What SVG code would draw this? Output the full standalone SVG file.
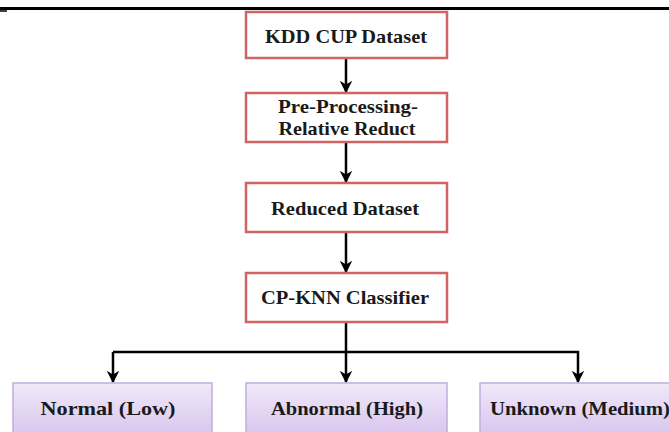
<svg xmlns="http://www.w3.org/2000/svg" width="669" height="432" viewBox="0 0 669 432">
<defs>
<linearGradient id="purple" x1="0" y1="0" x2="0" y2="1">
<stop offset="0" stop-color="#f1e9fa"/>
<stop offset="1" stop-color="#d8c5ee"/>
</linearGradient>
<marker id="arr" viewBox="0 0 10 10" refX="9" refY="5" markerWidth="5" markerHeight="5" orient="auto" markerUnits="strokeWidth">
<path d="M0,0 L10,5 L0,10 L3,5 Z" fill="#000"/>
</marker>
<style>
.red{fill:#fff;stroke:#d06464;stroke-width:2.5}
.pur{fill:url(#purple);stroke:#bfaedb;stroke-width:1.5}
.t{font-family:"Liberation Serif","Times New Roman",serif;font-weight:bold;font-size:19.5px;fill:#1a1a1a;text-anchor:middle}
.c{fill:none;stroke:#000;stroke-width:2.5}
</style>
</defs>
<rect width="669" height="432" fill="#fff"/>
<line x1="0" y1="8.5" x2="669" y2="8.5" stroke="#000" stroke-width="3"/>
<line x1="0" y1="11" x2="7" y2="11" stroke="#000" stroke-width="1.5"/>
<g id="connectors">
<line class="c" x1="346" y1="59" x2="346" y2="92" marker-end="url(#arr)"/>
<line class="c" x1="346" y1="143" x2="346" y2="182" marker-end="url(#arr)"/>
<line class="c" x1="346" y1="233" x2="346" y2="272" marker-end="url(#arr)"/>
<line class="c" x1="346" y1="323" x2="346" y2="382" marker-end="url(#arr)"/>
<path class="c" d="M113,352 H578 V382" marker-end="url(#arr)"/>
<line class="c" x1="113" y1="352" x2="113" y2="382" marker-end="url(#arr)"/>
</g>
<g id="kdd">
<rect class="red" x="246" y="12" width="201" height="46"/>
<text class="t" x="346" y="43" textLength="162" lengthAdjust="spacingAndGlyphs">KDD CUP Dataset</text>
</g>
<g id="preprocessing">
<rect class="red" x="246" y="93" width="201" height="49"/>
<text class="t" x="348" y="113" textLength="140" lengthAdjust="spacingAndGlyphs">Pre-Processing-</text>
<text class="t" x="347" y="135" textLength="137" lengthAdjust="spacingAndGlyphs">Relative Reduct</text>
</g>
<g id="reduced">
<rect class="red" x="246" y="183" width="201" height="49"/>
<text class="t" x="345" y="215" textLength="148" lengthAdjust="spacingAndGlyphs">Reduced Dataset</text>
</g>
<g id="classifier">
<rect class="red" x="246" y="273" width="201" height="49"/>
<text class="t" x="345" y="304" textLength="168" lengthAdjust="spacingAndGlyphs">CP-KNN Classifier</text>
</g>
<g id="normal">
<rect class="pur" x="13" y="383" width="199" height="52"/>
<text class="t" x="108" y="415" textLength="135" lengthAdjust="spacingAndGlyphs">Normal (Low)</text>
</g>
<g id="abnormal">
<rect class="pur" x="246" y="383" width="201" height="52"/>
<text class="t" x="347" y="415" textLength="152" lengthAdjust="spacingAndGlyphs">Abnormal (High)</text>
</g>
<g id="unknown">
<rect class="pur" x="480" y="383" width="200" height="52"/>
<text class="t" x="580" y="415" textLength="180" lengthAdjust="spacingAndGlyphs">Unknown (Medium)</text>
</g>
</svg>
